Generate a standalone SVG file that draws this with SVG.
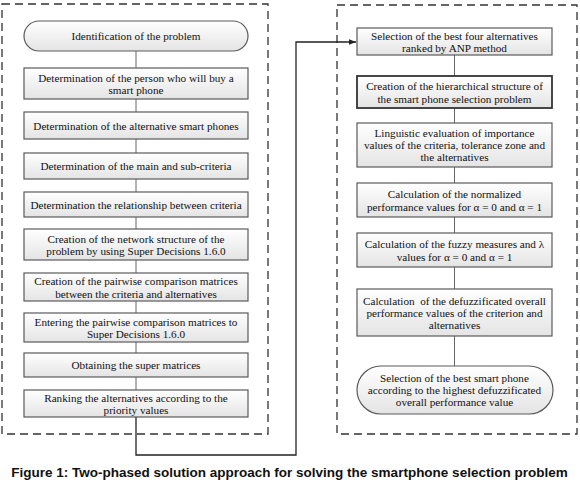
<svg xmlns="http://www.w3.org/2000/svg" width="580" height="488" viewBox="0 0 580 488">
<defs>
<linearGradient id="g" x1="0" y1="0" x2="0" y2="1">
<stop offset="0" stop-color="#ffffff"/>
<stop offset="1" stop-color="#e4e4e4"/>
</linearGradient>
<marker id="arr" viewBox="0 0 10 10" refX="10" refY="5" markerWidth="7" markerHeight="7" orient="auto" markerUnits="userSpaceOnUse">
<path d="M0,1 L10,5 L0,9 Z" fill="#222"/>
</marker>
</defs>
<style>
.box{fill:url(#g);stroke:#5a5a5a;stroke-width:1.2}
.thick{stroke:#333;stroke-width:1.8}
.frame{fill:none;stroke:#333;stroke-width:1.3;stroke-dasharray:8 5}
.t{font-family:'Liberation Serif','DejaVu Serif',serif;font-size:11.2px;fill:#111;text-anchor:middle}
.c{fill:none;stroke:#666;stroke-width:1}
.link{fill:none;stroke:#222;stroke-width:1.3}
.cap{font-family:'Liberation Sans',Arial,sans-serif;font-weight:bold;font-size:13.5px;fill:#111;text-anchor:middle}
</style>
<rect class="frame" x="2" y="4" width="266" height="430"/>
<rect class="frame" x="337" y="5" width="240" height="429"/>
<g id="connectors">
<line class="c" x1="136" y1="51" x2="136" y2="68"/>
<line class="c" x1="136" y1="99" x2="136" y2="112"/>
<line class="c" x1="136" y1="139" x2="136" y2="153"/>
<line class="c" x1="136" y1="179" x2="136" y2="192"/>
<line class="c" x1="136" y1="217" x2="136" y2="229"/>
<line class="c" x1="136" y1="260" x2="136" y2="273"/>
<line class="c" x1="136" y1="301" x2="136" y2="313"/>
<line class="c" x1="136" y1="342" x2="136" y2="353"/>
<line class="c" x1="136" y1="377" x2="136" y2="390"/>
<line class="c" x1="454.5" y1="55" x2="454.5" y2="76"/>
<line class="c" x1="454.5" y1="108" x2="454.5" y2="123"/>
<line class="c" x1="454.5" y1="167" x2="454.5" y2="183"/>
<line class="c" x1="454.5" y1="217" x2="454.5" y2="233"/>
<line class="c" x1="454.5" y1="267" x2="454.5" y2="289"/>
<line class="c" x1="454.5" y1="336" x2="454.5" y2="366"/>
<path class="link" d="M136,417 V455 H296 V42 H356" marker-end="url(#arr)"/>
</g>
<g id="n1"><rect class="box" x="24" y="21" width="224" height="30" rx="15"/><text class="t" font-family="Liberation Serif, serif" x="136" y="40">Identification of the problem</text></g>
<g id="n2"><rect class="box" x="24" y="68" width="224" height="31"/><text class="t" font-family="Liberation Serif, serif" x="136" y="81.5">Determination of the person who will buy a</text><text class="t" font-family="Liberation Serif, serif" x="136" y="94">smart phone</text></g>
<g id="n3"><rect class="box" x="24" y="112" width="224" height="27"/><text class="t" font-family="Liberation Serif, serif" x="136" y="129.5">Determination of the alternative smart phones</text></g>
<g id="n4"><rect class="box" x="24" y="153" width="224" height="26"/><text class="t" font-family="Liberation Serif, serif" x="136" y="170">Determination of the main and sub-criteria</text></g>
<g id="n5"><rect class="box" x="24" y="192" width="224" height="25"/><text class="t" font-family="Liberation Serif, serif" x="136" y="208.5">Determination the relationship between criteria</text></g>
<g id="n6"><rect class="box" x="24" y="229" width="224" height="31"/><text class="t" font-family="Liberation Serif, serif" x="136" y="242.5">Creation of the network structure of the</text><text class="t" font-family="Liberation Serif, serif" x="136" y="255">problem by using Super Decisions 1.6.0</text></g>
<g id="n7"><rect class="box" x="24" y="273" width="224" height="28"/><text class="t" font-family="Liberation Serif, serif" x="136" y="285">Creation of the pairwise comparison matrices</text><text class="t" font-family="Liberation Serif, serif" x="136" y="297.5">between the criteria and alternatives</text></g>
<g id="n8"><rect class="box" x="24" y="313" width="224" height="29"/><text class="t" font-family="Liberation Serif, serif" x="136" y="325.5">Entering the pairwise comparison matrices to</text><text class="t" font-family="Liberation Serif, serif" x="136" y="338">Super Decisions 1.6.0</text></g>
<g id="n9"><rect class="box" x="24" y="353" width="224" height="24"/><text class="t" font-family="Liberation Serif, serif" x="136" y="369">Obtaining the super matrices</text></g>
<g id="n10"><rect class="box" x="24" y="390" width="224" height="27"/><text class="t" font-family="Liberation Serif, serif" x="136" y="401.5">Ranking the alternatives according to the</text><text class="t" font-family="Liberation Serif, serif" x="136" y="414">priority values</text></g>
<g id="r1"><rect class="box" x="357" y="28" width="195" height="27"/><text class="t" font-family="Liberation Serif, serif" x="454.5" y="39.5">Selection of the best four alternatives</text><text class="t" font-family="Liberation Serif, serif" x="454.5" y="52">ranked by ANP method</text></g>
<g id="r2"><rect class="box thick" x="357" y="76" width="195" height="32"/><text class="t" font-family="Liberation Serif, serif" x="454.5" y="90">Creation of the hierarchical structure of</text><text class="t" font-family="Liberation Serif, serif" x="454.5" y="102.5">the smart phone selection problem</text></g>
<g id="r3"><rect class="box" x="357" y="123" width="195" height="44"/><text class="t" font-family="Liberation Serif, serif" x="454.5" y="137">Linguistic evaluation of importance</text><text class="t" font-family="Liberation Serif, serif" x="454.5" y="149">values of the criteria, tolerance zone and</text><text class="t" font-family="Liberation Serif, serif" x="454.5" y="161">the alternatives</text></g>
<g id="r4"><rect class="box" x="357" y="183" width="195" height="34"/><text class="t" font-family="Liberation Serif, serif" x="454.5" y="198">Calculation of the normalized</text><text class="t" font-family="Liberation Serif, serif" x="454.5" y="210.5">performance values for α = 0 and α = 1</text></g>
<g id="r5"><rect class="box" x="357" y="233" width="195" height="34"/><text class="t" font-family="Liberation Serif, serif" x="454.5" y="248">Calculation of the fuzzy measures and λ</text><text class="t" font-family="Liberation Serif, serif" x="454.5" y="260.5">values for α = 0 and α = 1</text></g>
<g id="r6"><rect class="box" x="357" y="289" width="195" height="47"/><text class="t" font-family="Liberation Serif, serif" x="454.5" y="304.5" xml:space="preserve">Calculation  of the defuzzificated overall</text><text class="t" font-family="Liberation Serif, serif" x="454.5" y="316.5">performance values of the criterion and</text><text class="t" font-family="Liberation Serif, serif" x="454.5" y="328.5">alternatives</text></g>
<g id="r7"><rect class="box" x="357" y="366" width="196" height="48" rx="24"/><text class="t" font-family="Liberation Serif, serif" x="454.5" y="382">Selection of the best smart phone</text><text class="t" font-family="Liberation Serif, serif" x="454.5" y="394">according to the highest defuzzificated</text><text class="t" font-family="Liberation Serif, serif" x="454.5" y="406">overall performance value</text></g>
<text class="cap" x="289.5" y="477">Figure 1: Two-phased solution approach for solving the smartphone selection problem</text>
</svg>
